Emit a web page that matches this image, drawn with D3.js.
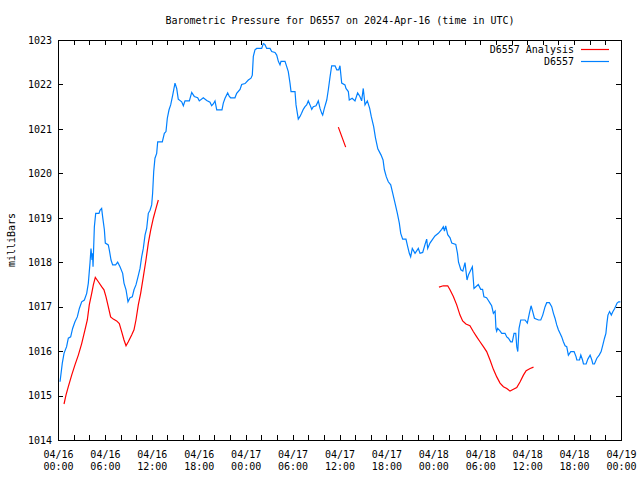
<!DOCTYPE html>
<html>
<head>
<meta charset="utf-8">
<script src="https://cdn.jsdelivr.net/npm/d3@7"></script>
<style>
  body { margin: 0; background: #fff; }
  svg { display: block; }
  text { font-family: "DejaVu Sans Mono", monospace; font-size: 10px; fill: #000; }
</style>
</head>
<body>
<svg id="chart" width="640" height="480"></svg>
<script>
// ---- data (hours since 2024-04-16 00:00 UTC, pressure in mbar) ----
const blueHours = [0.26,0.55,0.77,1.1,1.32,1.62,1.87,2.17,2.47,2.73,3.03,3.37,3.67,3.88,4.09,4.22,4.35,4.42,4.48,4.65,4.82,5.24,5.37,5.58,5.71,5.93,6.05,6.43,6.56,6.78,6.99,7.37,7.63,7.93,8.27,8.44,8.7,8.95,9.21,9.5,9.72,9.97,10.19,10.49,10.7,10.91,11.13,11.34,11.55,11.77,11.98,12.1,12.24,12.4,12.62,12.75,13.34,13.6,13.81,13.98,14.2,14.41,14.67,14.96,15.18,15.38,15.82,16.03,16.24,16.8,17.1,17.43,17.86,18.07,18.58,19.02,19.44,19.65,19.86,20.08,20.3,20.97,21.14,21.36,21.7,21.91,22.08,22.63,22.85,23.28,23.49,23.92,24.34,24.68,24.85,24.98,25.19,25.41,26.05,26.26,26.45,26.69,27.11,27.33,27.75,27.97,28.18,28.39,28.52,29.03,29.25,29.45,29.67,29.8,30.31,30.44,30.73,30.95,31.15,31.37,31.59,31.8,32.01,32.23,32.45,32.65,33.0,33.29,33.51,33.73,33.85,34.06,34.37,34.57,34.79,35.0,35.43,35.65,35.9,36.06,36.28,36.7,36.83,37.13,37.25,37.62,37.98,38.32,38.61,38.83,39.04,39.26,39.56,39.86,40.06,40.37,40.6,40.9,41.32,41.57,41.74,41.99,42.24,42.55,42.81,43.1,43.4,43.65,43.83,44.08,44.5,44.72,44.93,45.1,45.31,45.66,46.08,46.3,46.64,46.94,47.15,47.28,47.57,47.92,48.21,48.64,49.07,49.28,49.42,49.58,49.84,50.14,50.36,50.87,51.09,51.22,51.52,51.77,52.05,52.31,52.5,52.99,53.2,53.75,54.06,54.3,54.47,54.81,55.0,55.25,55.46,55.68,55.9,56.01,56.1,56.22,56.5,56.75,57.17,57.39,57.6,57.9,58.1,58.32,58.54,58.67,58.8,58.96,59.18,59.73,60.02,60.28,60.5,60.71,60.93,61.44,61.74,61.99,62.29,62.5,62.84,63.14,63.36,63.56,63.78,63.99,64.2,64.42,64.63,64.85,65.06,65.27,65.58,66.0,66.26,66.35,66.69,66.86,67.08,67.2,67.54,67.76,68.05,68.27,68.4,68.6,68.91,69.21,69.46,69.68,69.89,70.07,70.2,70.33,70.54,70.76,70.97,71.19,71.5,71.7,71.92];
const bluePressure = [1015.31,1015.73,1015.95,1016.1,1016.29,1016.32,1016.51,1016.66,1016.77,1016.96,1017.11,1017.15,1017.3,1017.53,1017.98,1018.31,1018.05,1018.2,1017.9,1018.8,1019.1,1019.1,1019.17,1019.21,1019.02,1018.73,1018.43,1018.39,1018.28,1018.05,1017.94,1017.94,1018.0,1017.9,1017.75,1017.53,1017.38,1017.11,1017.2,1017.22,1017.38,1017.49,1017.64,1017.86,1018.12,1018.31,1018.61,1018.76,1019.1,1019.17,1019.29,1019.55,1020.04,1020.34,1020.45,1020.71,1020.71,1020.9,1020.94,1021.24,1021.43,1021.54,1021.76,1022.03,1021.91,1021.67,1021.61,1021.52,1021.63,1021.63,1021.82,1021.73,1021.7,1021.63,1021.7,1021.64,1021.6,1021.52,1021.56,1021.63,1021.43,1021.43,1021.58,1021.69,1021.81,1021.73,1021.7,1021.7,1021.8,1021.89,1022.0,1022.02,1022.1,1022.14,1022.21,1022.63,1022.78,1022.81,1022.81,1022.92,1022.9,1022.81,1022.81,1022.74,1022.72,1022.66,1022.52,1022.44,1022.52,1022.52,1022.4,1022.29,1022.03,1021.84,1021.84,1021.54,1021.22,1021.28,1021.35,1021.44,1021.5,1021.54,1021.63,1021.54,1021.44,1021.5,1021.52,1021.63,1021.46,1021.35,1021.31,1021.46,1021.65,1021.88,1022.17,1022.42,1022.42,1022.33,1022.33,1022.42,1022.03,1021.99,1021.91,1021.84,1021.65,1021.69,1021.63,1021.81,1021.73,1021.63,1021.91,1021.54,1021.63,1021.46,1021.28,1021.05,1020.8,1020.55,1020.41,1020.3,1020.08,1019.92,1019.81,1019.74,1019.55,1019.33,1019.1,1018.88,1018.65,1018.52,1018.52,1018.35,1018.2,1018.12,1018.31,1018.2,1018.31,1018.2,1018.22,1018.4,1018.52,1018.31,1018.43,1018.52,1018.59,1018.65,1018.74,1018.8,1018.7,1018.82,1018.62,1018.55,1018.43,1018.4,1018.2,1018.0,1017.83,1017.8,1017.99,1017.6,1017.72,1017.9,1017.41,1017.5,1017.39,1017.39,1017.22,1017.2,1017.15,1017.08,1017.02,1016.85,1016.9,1016.51,1016.45,1016.51,1016.46,1016.4,1016.4,1016.32,1016.29,1016.21,1016.21,1016.4,1016.4,1016.1,1015.99,1016.51,1016.7,1016.7,1016.63,1016.85,1017.02,1016.89,1016.74,1016.7,1016.7,1016.81,1017.0,1017.09,1017.09,1017.0,1016.85,1016.74,1016.59,1016.48,1016.4,1016.32,1016.21,1016.12,1016.1,1015.91,1015.99,1015.99,1015.87,1015.8,1015.8,1015.91,1015.8,1015.71,1015.71,1015.82,1015.91,1015.8,1015.71,1015.71,1015.84,1015.91,1015.99,1016.14,1016.29,1016.4,1016.63,1016.81,1016.89,1016.81,1016.89,1016.96,1017.08,1017.11,1017.11];

// Analysis series; null marks a gap between segments
const redHours = [0.77,1.02,1.32,1.75,2.17,2.6,3.03,3.45,3.75,4.0,4.31,4.52,4.77,5.16,5.58,5.88,6.14,6.43,6.73,7.07,7.5,7.84,8.14,8.44,8.7,8.99,9.42,9.72,9.97,10.27,10.57,10.91,11.25,11.55,11.86,12.19,12.53,12.83, 24.0, 35.85,36.79, 42.0, 48.72,49.28,49.84,50.13,50.56,50.99,51.41,51.75,52.17,52.68,53.11,53.55,53.97,54.4,54.82,55.25,55.68,56.11,56.53,56.96,57.39,57.81,58.24,58.67,59.1,59.52,59.87,60.38,60.81];
const redPressure = [1014.81,1015.01,1015.2,1015.46,1015.69,1015.91,1016.17,1016.48,1016.7,1017.04,1017.3,1017.49,1017.66,1017.56,1017.45,1017.38,1017.22,1017.0,1016.77,1016.72,1016.68,1016.62,1016.44,1016.25,1016.12,1016.21,1016.36,1016.48,1016.7,1017.04,1017.3,1017.67,1018.05,1018.43,1018.73,1018.99,1019.21,1019.4, null, 1021.04,1020.59, null, 1017.44,1017.47,1017.47,1017.38,1017.23,1017.04,1016.81,1016.68,1016.61,1016.57,1016.44,1016.32,1016.21,1016.1,1015.99,1015.8,1015.59,1015.42,1015.28,1015.2,1015.16,1015.1,1015.14,1015.18,1015.31,1015.46,1015.56,1015.61,1015.64];

const yTicks = [1014,1015,1016,1017,1018,1019,1020,1021,1022,1023];
const xTickDates = ["04/16","04/16","04/16","04/16","04/17","04/17","04/17","04/17","04/18","04/18","04/18","04/18","04/19"];
const xTickTimes = ["00:00","06:00","12:00","18:00","00:00","06:00","12:00","18:00","00:00","06:00","12:00","18:00","00:00"];
const seriesNames = ["D6557 Analysis","D6557"];
const seriesColors = ["#ff0000","#0080ff"];
const titleText = "Barometric Pressure for D6557 on 2024-Apr-16 (time in UTC)";
const yLabel = "milliBars";

// ---- layout ----
const L = 58, R = 621, T = 40, B = 440;
const start = new Date(Date.UTC(2024, 3, 16, 0, 0));
const end = new Date(Date.UTC(2024, 3, 19, 0, 0));
const toDate = h => new Date(start.getTime() + h * 3600e3);

const x = d3.scaleUtc().domain([start, end]).range([L, R]);
const y = d3.scaleLinear().domain([1014, 1023]).range([B, T]);

const svg = d3.select("#chart");

const majorTicks = d3.utcHour.every(6).range(start, d3.utcHour.offset(end, 1));
const minorTicks = d3.utcHour.every(2).range(start, d3.utcHour.offset(end, 1)).filter(d => d.getUTCHours() % 6 !== 0);

function styleAxis(g) {
  g.select(".domain").remove();
  g.selectAll(".tick line").attr("stroke", "#000").attr("shape-rendering", "crispEdges");
}

// bottom major + labels
const bx = svg.append("g").attr("transform", `translate(0,${B})`)
  .call(d3.axisBottom(x).tickValues(majorTicks).tickSize(-5).tickFormat(""))
  .call(styleAxis);
bx.selectAll(".tick text").remove();
bx.selectAll(".tick").each(function(d, i) {
  const t = d3.select(this).append("text").attr("text-anchor", "middle");
  t.append("tspan").attr("x", 0).attr("y", 18).text(xTickDates[i]);
  t.append("tspan").attr("x", 0).attr("y", 30).text(xTickTimes[i]);
});
svg.append("g").attr("transform", `translate(0,${B})`)
  .call(d3.axisBottom(x).tickValues(minorTicks).tickSize(-5).tickFormat(""))
  .call(styleAxis);
// top mirror
svg.append("g").attr("transform", `translate(0,${T})`)
  .call(d3.axisTop(x).tickValues(majorTicks).tickSize(-5).tickFormat(""))
  .call(styleAxis);
svg.append("g").attr("transform", `translate(0,${T})`)
  .call(d3.axisTop(x).tickValues(minorTicks).tickSize(-5).tickFormat(""))
  .call(styleAxis);

// left axis
const ly = svg.append("g").attr("transform", `translate(${L},0)`)
  .call(d3.axisLeft(y).tickValues(yTicks).tickSize(-5).tickPadding(6).tickFormat(d3.format("d")))
  .call(styleAxis);
ly.selectAll(".tick text").attr("x", -6).attr("dy", "0.33em").attr("text-anchor", "end")
  .style("font-family", '"DejaVu Sans Mono", monospace').style("font-size", "10px");
// right mirror
svg.append("g").attr("transform", `translate(${R},0)`)
  .call(d3.axisRight(y).tickValues(yTicks).tickSize(-5).tickFormat(""))
  .call(styleAxis);

// frame
svg.append("rect").attr("x", L).attr("y", T).attr("width", R - L).attr("height", B - T)
  .attr("fill", "none").attr("stroke", "#000").attr("shape-rendering", "crispEdges");

// lines
const blueData = blueHours.map((h, i) => ({ t: toDate(h), v: bluePressure[i] }));
const redData = redHours.map((h, i) => ({ t: toDate(h), v: redPressure[i] }));
const line = d3.line().defined(d => d.v !== null).x(d => x(d.t)).y(d => y(d.v));

svg.append("path").datum(blueData).attr("d", line)
  .attr("fill", "none").attr("stroke", seriesColors[1]).attr("stroke-width", 1.2);
svg.append("path").datum(redData).attr("d", line)
  .attr("fill", "none").attr("stroke", seriesColors[0]).attr("stroke-width", 1.2);

// title
svg.append("text").attr("x", 340).attr("y", 23.5).attr("text-anchor", "middle").text(titleText);

// y label
svg.append("text").attr("transform", "translate(15,240) rotate(-90)")
  .attr("text-anchor", "middle").text(yLabel);

// legend
seriesNames.forEach((name, i) => {
  const ly0 = 49.5 + i * 12;
  svg.append("text").attr("x", 574).attr("y", ly0 + 3.5).attr("text-anchor", "end").text(name);
  svg.append("path")
    .attr("d", `M581,${ly0}H609`)
    .attr("fill", "none")
    .attr("stroke", seriesColors[i]).attr("stroke-width", 1.2);
});
</script>
</body>
</html>
